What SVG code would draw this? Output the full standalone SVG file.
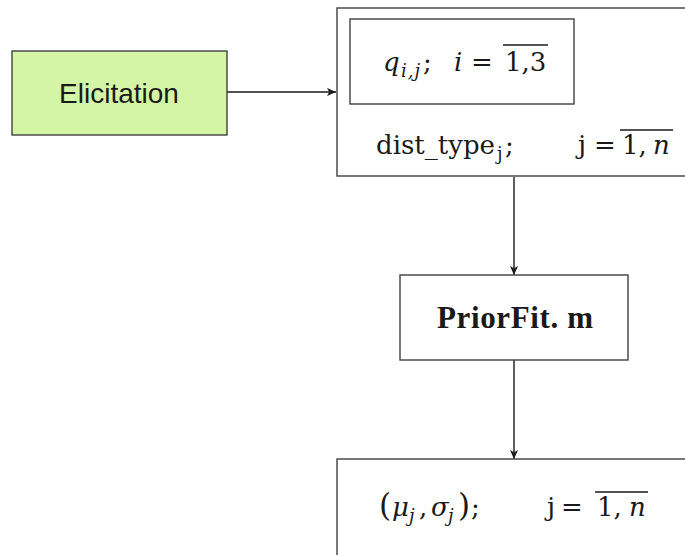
<svg xmlns="http://www.w3.org/2000/svg" width="685" height="555" viewBox="0 0 685 555">
  <style>
    .box { fill: #ffffff; stroke: #404040; stroke-width: 1.4; }
    .green { fill: #d5f5a6; stroke: #404040; stroke-width: 1.4; }
    .edge { fill: none; stroke: #1a1a1a; stroke-width: 1.4; marker-end: url(#arrow); }
    .bar { stroke: #1a1a1a; stroke-width: 1.3; }
    .sans { font-family: "Liberation Sans", Arial, sans-serif; fill: #1a1a1a; }
    .math { font-family: "DejaVu Serif", "Liberation Serif", serif; fill: #1a1a1a; font-size: 26px; }
    .it { font-style: italic; }
    .sub { font-size: 18px; }
    .paren { font-size: 31px; }
  </style>
  <defs>
    <marker id="arrow" viewBox="0 0 10 10" refX="10" refY="5" markerWidth="9" markerHeight="9" markerUnits="userSpaceOnUse" orient="auto">
      <path d="M0,0.5 L10,5 L0,9.5 L2.5,5 z" fill="#1a1a1a"/>
    </marker>
  </defs>

  <g id="connectors">
    <line class="edge" x1="227" y1="92" x2="336" y2="92"/>
    <line class="edge" x1="514" y1="177" x2="514" y2="275"/>
    <line class="edge" x1="514" y1="360" x2="514" y2="459"/>
  </g>

  <g id="elicitation">
    <rect class="green" x="12" y="51" width="215" height="84"/>
    <text class="sans" x="119" y="103" font-size="28" text-anchor="middle">Elicitation</text>
  </g>

  <g id="inputs">
    <rect class="box" x="337" y="8" width="360" height="168"/>
    <g id="quantiles">
      <rect class="box" x="350" y="19" width="224" height="85"/>
      <text class="math" y="71">
        <tspan class="it" x="383">q</tspan>
        <tspan class="it sub" x="401" y="77" letter-spacing="1">i,j</tspan>
        <tspan x="423" y="71">;</tspan>
        <tspan class="it" x="454">i</tspan>
        <tspan x="471">=</tspan>
        <tspan x="505">1,3</tspan>
      </text>
      <line class="bar" x1="503" y1="45" x2="548" y2="45"/>
    </g>
    <text class="math" y="154">
      <tspan x="376">dist_type</tspan>
      <tspan class="sub" x="497" y="160">j</tspan>
      <tspan x="505" y="154">;</tspan>
      <tspan x="578">j</tspan>
      <tspan x="594">=</tspan>
      <tspan x="622">1,</tspan>
      <tspan class="it" x="653">n</tspan>
    </text>
    <line class="bar" x1="620" y1="130" x2="673" y2="130"/>
  </g>

  <g id="priorfit">
    <rect class="box" x="400" y="275" width="228" height="85"/>
    <text x="437" y="328" font-family="Liberation Serif, DejaVu Serif, serif" font-size="31" font-weight="bold" fill="#1a1a1a" textLength="156" lengthAdjust="spacing">PriorFit. m</text>
  </g>

  <g id="params">
    <rect class="box" x="337" y="459" width="360" height="110"/>
    <text class="math" y="516">
      <tspan class="paren" x="379">(</tspan>
      <tspan class="it" x="392">μ</tspan>
      <tspan class="it sub" x="409" y="522">j</tspan>
      <tspan x="419" y="516">,</tspan>
      <tspan class="it" x="431">σ</tspan>
      <tspan class="it sub" x="448" y="522">j</tspan>
      <tspan class="paren" x="458" y="516">)</tspan>
      <tspan x="471">;</tspan>
      <tspan x="547">j</tspan>
      <tspan x="561">=</tspan>
      <tspan x="597">1,</tspan>
      <tspan class="it" x="629">n</tspan>
    </text>
    <line class="bar" x1="595" y1="492" x2="648" y2="492"/>
  </g>
</svg>
